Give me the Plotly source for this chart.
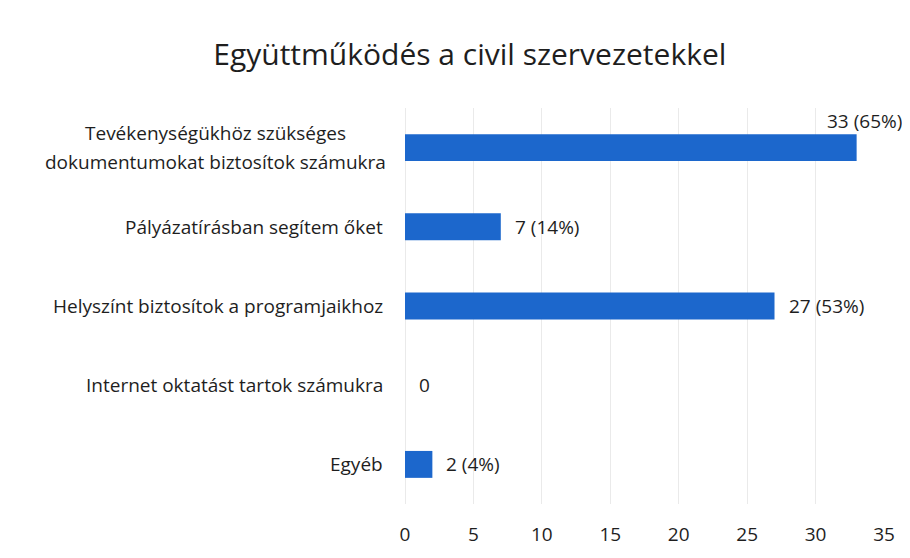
import plotly.graph_objects as go

BLUE = 'rgb(28, 103, 204)'
GRID = 'rgb(234, 234, 234)'
TEXT = 'rgb(30, 30, 30)'
FONT = 'Open Sans, sans-serif'

title = 'Együttműködés a civil szervezetekkel'
categories = [
    'Tevékenységükhöz szükséges<br>dokumentumokat biztosítok számukra',
    'Pályázatírásban segítem őket',
    'Helyszínt biztosítok a programjaikhoz',
    'Internet oktatást tartok számukra',
    'Egyéb',
]
counts = [33, 7, 27, 0, 2]
percents = [65, 14, 53, 0, 4]
x_ticks = [0, 5, 10, 15, 20, 25, 30, 35]

labels = [f'{c} ({p}%)' if c else f'{c}' for c, p in zip(counts, percents)]

fig = go.Figure()
fig.add_trace(go.Bar(
    y=categories, x=counts, orientation='h',
    marker=dict(color=BLUE, line=dict(width=0)),
    width=0.34, hoverinfo='skip',
))

annotations = []
# category names: one annotation per line so the line spacing can be set,
# each line centred on the longest one
LINE_GAP = 29
for cat in categories:
    parts = cat.split('<br>')
    for i, part in enumerate(parts):
        annotations.append(dict(
            x=0, xref='paper', y=cat, yref='y', text=part, showarrow=False,
            xanchor='right', xshift=-20, yshift=((len(parts) - 1) / 2 - i) * LINE_GAP,
            font=dict(family=FONT, size=19, color=TEXT),
        ))
# centre the short first line over the long second one
annotations[0].update(xanchor='center', xshift=-20 - 170)
annotations[1].update(xanchor='center', xshift=-20 - 170)

# value labels; the longest bar gets its label lifted above the bar end
for cat, cnt, lab in zip(categories, counts, labels):
    if cnt == max(counts):
        a = dict(x=cnt, xanchor='right', xshift=47, yshift=27)
    else:
        a = dict(x=cnt, xanchor='left', xshift=12, yshift=0)
    a.update(xref='x', y=cat, yref='y', text=lab, showarrow=False,
             font=dict(family=FONT, size=19, color=TEXT))
    annotations.append(a)

fig.update_layout(
    width=902, height=550,
    margin=dict(l=397, r=26, t=100, b=54),
    paper_bgcolor='white', plot_bgcolor='white',
    title=dict(text=title, x=0.512, xanchor='center', y=0.915, yanchor='middle',
               font=dict(family=FONT, size=30, color=TEXT)),
    showlegend=False,
    annotations=annotations,
    xaxis=dict(range=[0, 35], tickvals=x_ticks, showgrid=True, gridcolor=GRID, gridwidth=1,
               zeroline=True, zerolinecolor=GRID, zerolinewidth=1, showline=False,
               ticks='', ticklabelstandoff=17,
               tickfont=dict(family=FONT, size=19, color=TEXT)),
    yaxis=dict(autorange='reversed', showticklabels=False, showgrid=False, zeroline=False,
               showline=False, ticks=''),
)

fig.write_html('out.html')
